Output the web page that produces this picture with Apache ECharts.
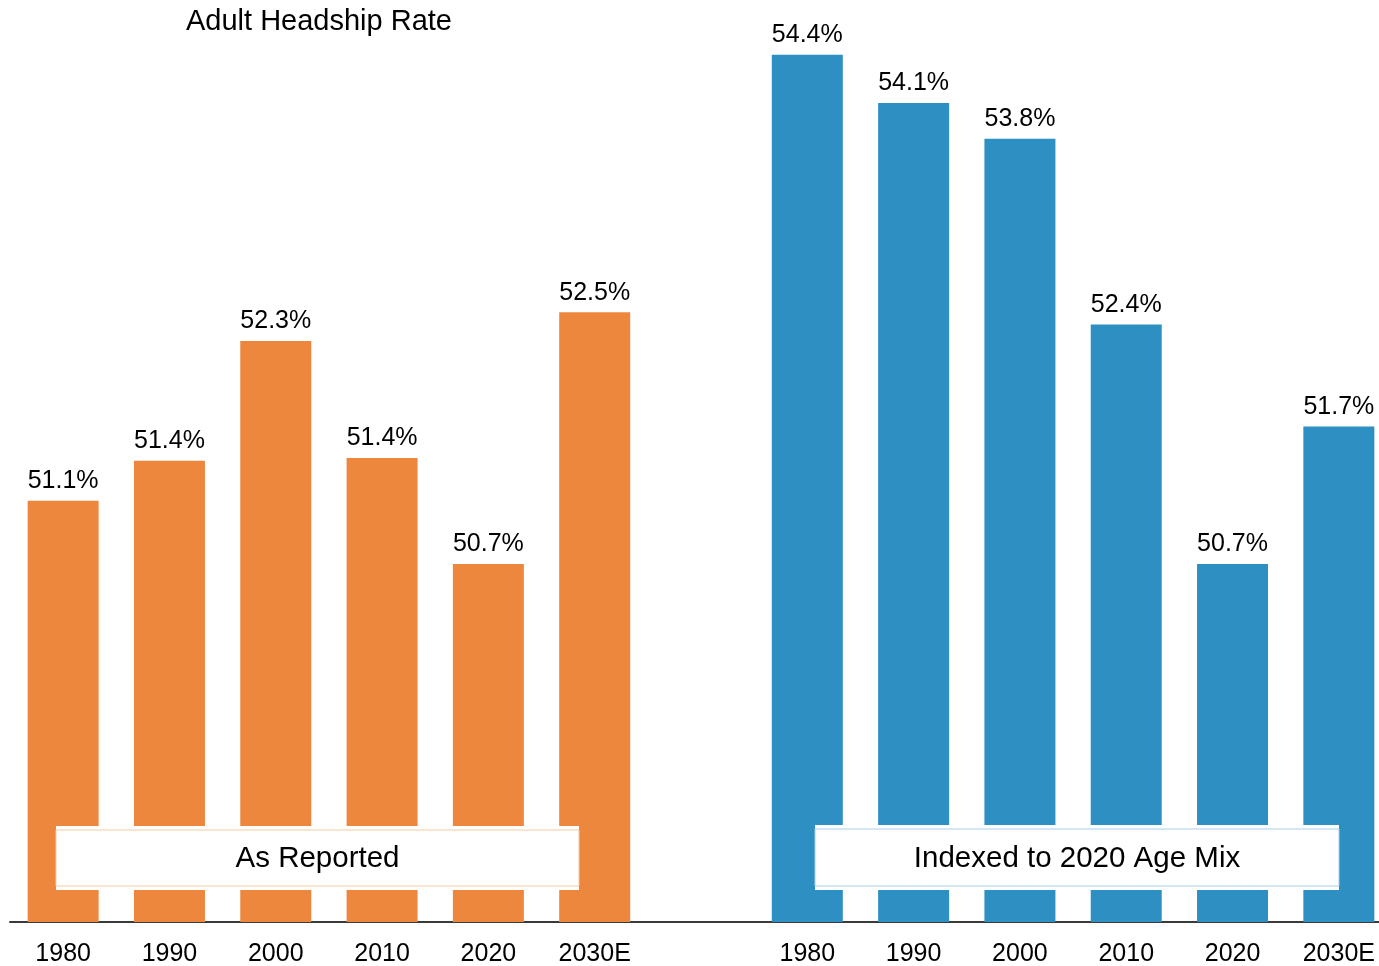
<!DOCTYPE html>
<html>
<head>
<meta charset="utf-8">
<title>Adult Headship Rate</title>
<script src="https://cdn.jsdelivr.net/npm/echarts@6/dist/echarts.min.js"></script>
<style>
  html, body { margin: 0; padding: 0; background: #fff; }
  #chart { width: 1379px; height: 966px; }
</style>
</head>
<body>
<div id="chart"></div>
<script>
// data
const years = ['1980', '1990', '2000', '2010', '2020', '2030E']
const reportedVals = [51.16, 51.45, 52.32, 51.47, 50.7, 52.53]
const reportedLabels = ['51.1%', '51.4%', '52.3%', '51.4%', '50.7%', '52.5%']
const indexedVals = [54.4, 54.05, 53.79, 52.44, 50.7, 51.7]
const indexedLabels = ['54.4%', '54.1%', '53.8%', '52.4%', '50.7%', '51.7%']

const FONT = '"Liberation Sans", Arial, sans-serif'
const ORANGE = '#EE873E'
const BLUE = '#2E90C2'

// one blank slot between the two groups
const categories = years.concat([''], years)
const blanks = years.map(() => '-')
const orangeData = reportedVals.concat(['-'], blanks)
const blueData = blanks.concat(['-'], indexedVals)
const labelTexts = reportedLabels.concat([''], indexedLabels)

let myChart = echarts.init(document.getElementById('chart'))

// white caption box sitting on top of the bars
function labelBox(x, y, w, h, border, text) {
  return {
    type: 'group',
    z: 100,
    children: [
      { type: 'rect', z: 100, shape: { x: x, y: y - 4, width: w, height: h + 8 }, style: { fill: '#fff' } },
      { type: 'rect', z: 101, shape: { x: x, y: y, width: w, height: h }, style: { fill: '#fff', stroke: border, lineWidth: 1 } },
      { type: 'text', z: 102, x: x + w / 2, y: y + h / 2 + 1, style: { text: text, fill: '#000', font: '29.5px ' + FONT, align: 'center', verticalAlign: 'middle' } }
    ]
  }
}

myChart.setOption({
  animation: false,
  textStyle: { fontFamily: FONT },
  title: {
    text: 'Adult Headship Rate',
    left: 186,
    top: 7,
    padding: 0,
    textStyle: { fontSize: 29, fontWeight: 'normal', color: '#000', fontFamily: FONT }
  },
  grid: { left: 10, top: 41, width: 1382, bottom: 44, outerBoundsMode: 'none' },
  xAxis: {
    type: 'category',
    data: categories,
    axisLine: { lineStyle: { color: '#3a3a3a', width: 2 } },
    axisTick: { show: false },
    axisLabel: { interval: 0, color: '#000', fontSize: 25, margin: 20, fontFamily: FONT }
  },
  yAxis: {
    type: 'value',
    min: 48.1,
    max: 54.5,
    show: false
  },
  series: [
    {
      name: 'As Reported',
      type: 'bar',
      data: orangeData,
      barWidth: 71,
      barGap: '-100%',
      itemStyle: { color: ORANGE },
      label: {
        show: true,
        position: 'top',
        distance: 7,
        color: '#000',
        fontSize: 25,
        fontFamily: FONT,
        formatter: (p) => labelTexts[p.dataIndex]
      }
    },
    {
      name: 'Indexed to 2020 Age Mix',
      type: 'bar',
      data: blueData,
      barWidth: 71,
      itemStyle: { color: BLUE },
      label: {
        show: true,
        position: 'top',
        distance: 7,
        color: '#000',
        fontSize: 25,
        fontFamily: FONT,
        formatter: (p) => labelTexts[p.dataIndex]
      }
    }
  ],
  graphic: [
    labelBox(56, 830, 523, 56, '#f5c9a6', 'As Reported'),
    labelBox(815, 829, 524, 57, '#a9d0e6', 'Indexed to 2020 Age Mix')
  ]
})
</script>
</body>
</html>
